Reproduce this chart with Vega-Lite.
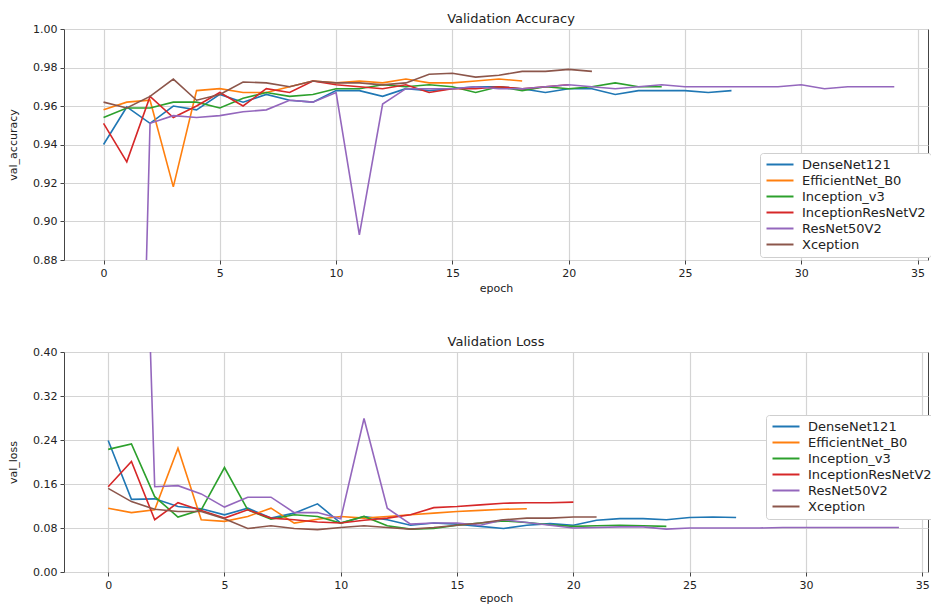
{
  "$schema": "https://vega.github.io/schema/vega-lite/v6.json",
  "padding": {"left": 7, "top": 12, "right": 0, "bottom": 0},
  "background": "white",
  "config": {
    "font": "DejaVu Sans",
    "view": {"stroke": "#444", "strokeWidth": 1},
    "axis": {"domain": false, "grid": true, "gridColor": "#d4d4d4", "gridWidth": 1.2, "tickColor": "#444", "tickSize": 4, "labelFontSize": 11, "labelColor": "#222", "titleFontSize": 11, "titleFontWeight": "normal", "titleColor": "#222", "labelPadding": 3},
    "title": {"fontSize": 13, "fontWeight": "normal", "color": "#222", "offset": -3},
    "legend": {"orient": "none", "title": null, "strokeColor": "#cfcfcf", "fillColor": "white", "padding": 5, "cornerRadius": 3, "symbolType": "M-1,0H4.4", "symbolStrokeWidth": 2, "symbolSize": 100, "labelFontSize": 13, "labelColor": "#222", "rowPadding": 2, "labelOffset": 24}
  },
  "data": {"values": [
    {"model":"DenseNet121","epoch":0,"acc":0.940,"loss":0.239},
    {"model":"DenseNet121","epoch":1,"acc":0.9595,"loss":0.132},
    {"model":"DenseNet121","epoch":2,"acc":0.951,"loss":0.133},
    {"model":"DenseNet121","epoch":3,"acc":0.960,"loss":0.119},
    {"model":"DenseNet121","epoch":4,"acc":0.958,"loss":0.115},
    {"model":"DenseNet121","epoch":5,"acc":0.966,"loss":0.104},
    {"model":"DenseNet121","epoch":6,"acc":0.962,"loss":0.116},
    {"model":"DenseNet121","epoch":7,"acc":0.966,"loss":0.098},
    {"model":"DenseNet121","epoch":8,"acc":0.963,"loss":0.107},
    {"model":"DenseNet121","epoch":9,"acc":0.962,"loss":0.124},
    {"model":"DenseNet121","epoch":10,"acc":0.968,"loss":0.089},
    {"model":"DenseNet121","epoch":11,"acc":0.968,"loss":0.101},
    {"model":"DenseNet121","epoch":12,"acc":0.965,"loss":0.095},
    {"model":"DenseNet121","epoch":13,"acc":0.969,"loss":0.085},
    {"model":"DenseNet121","epoch":14,"acc":0.968,"loss":0.089},
    {"model":"DenseNet121","epoch":15,"acc":0.969,"loss":0.087},
    {"model":"DenseNet121","epoch":16,"acc":0.970,"loss":0.083},
    {"model":"DenseNet121","epoch":17,"acc":0.970,"loss":0.079},
    {"model":"DenseNet121","epoch":18,"acc":0.969,"loss":0.085},
    {"model":"DenseNet121","epoch":19,"acc":0.967,"loss":0.088},
    {"model":"DenseNet121","epoch":20,"acc":0.969,"loss":0.085},
    {"model":"DenseNet121","epoch":21,"acc":0.969,"loss":0.094},
    {"model":"DenseNet121","epoch":22,"acc":0.966,"loss":0.097},
    {"model":"DenseNet121","epoch":23,"acc":0.968,"loss":0.097},
    {"model":"DenseNet121","epoch":24,"acc":0.968,"loss":0.095},
    {"model":"DenseNet121","epoch":25,"acc":0.968,"loss":0.099},
    {"model":"DenseNet121","epoch":26,"acc":0.967,"loss":0.100},
    {"model":"DenseNet121","epoch":27,"acc":0.968,"loss":0.099},
    {"model":"EfficientNet_B0","epoch":0,"acc":0.958,"loss":0.116},
    {"model":"EfficientNet_B0","epoch":1,"acc":0.962,"loss":0.108},
    {"model":"EfficientNet_B0","epoch":2,"acc":0.963,"loss":0.113},
    {"model":"EfficientNet_B0","epoch":3,"acc":0.918,"loss":0.225},
    {"model":"EfficientNet_B0","epoch":4,"acc":0.968,"loss":0.095},
    {"model":"EfficientNet_B0","epoch":5,"acc":0.969,"loss":0.092},
    {"model":"EfficientNet_B0","epoch":6,"acc":0.967,"loss":0.101},
    {"model":"EfficientNet_B0","epoch":7,"acc":0.967,"loss":0.116},
    {"model":"EfficientNet_B0","epoch":8,"acc":0.970,"loss":0.089},
    {"model":"EfficientNet_B0","epoch":9,"acc":0.973,"loss":0.096},
    {"model":"EfficientNet_B0","epoch":10,"acc":0.972,"loss":0.101},
    {"model":"EfficientNet_B0","epoch":11,"acc":0.973,"loss":0.098},
    {"model":"EfficientNet_B0","epoch":12,"acc":0.972,"loss":0.101},
    {"model":"EfficientNet_B0","epoch":13,"acc":0.974,"loss":0.104},
    {"model":"EfficientNet_B0","epoch":14,"acc":0.972,"loss":0.107},
    {"model":"EfficientNet_B0","epoch":15,"acc":0.972,"loss":0.110},
    {"model":"EfficientNet_B0","epoch":16,"acc":0.973,"loss":0.112},
    {"model":"EfficientNet_B0","epoch":17,"acc":0.974,"loss":0.114},
    {"model":"EfficientNet_B0","epoch":18,"acc":0.973,"loss":0.115},
    {"model":"Inception_v3","epoch":0,"acc":0.954,"loss":0.223},
    {"model":"Inception_v3","epoch":1,"acc":0.959,"loss":0.233},
    {"model":"Inception_v3","epoch":2,"acc":0.959,"loss":0.137},
    {"model":"Inception_v3","epoch":3,"acc":0.962,"loss":0.100},
    {"model":"Inception_v3","epoch":4,"acc":0.962,"loss":0.113},
    {"model":"Inception_v3","epoch":5,"acc":0.959,"loss":0.190},
    {"model":"Inception_v3","epoch":6,"acc":0.964,"loss":0.113},
    {"model":"Inception_v3","epoch":7,"acc":0.967,"loss":0.096},
    {"model":"Inception_v3","epoch":8,"acc":0.965,"loss":0.104},
    {"model":"Inception_v3","epoch":9,"acc":0.966,"loss":0.101},
    {"model":"Inception_v3","epoch":10,"acc":0.969,"loss":0.089},
    {"model":"Inception_v3","epoch":11,"acc":0.969,"loss":0.101},
    {"model":"Inception_v3","epoch":12,"acc":0.971,"loss":0.084},
    {"model":"Inception_v3","epoch":13,"acc":0.970,"loss":0.078},
    {"model":"Inception_v3","epoch":14,"acc":0.971,"loss":0.079},
    {"model":"Inception_v3","epoch":15,"acc":0.970,"loss":0.085},
    {"model":"Inception_v3","epoch":16,"acc":0.967,"loss":0.089},
    {"model":"Inception_v3","epoch":17,"acc":0.970,"loss":0.093},
    {"model":"Inception_v3","epoch":18,"acc":0.968,"loss":0.090},
    {"model":"Inception_v3","epoch":19,"acc":0.970,"loss":0.086},
    {"model":"Inception_v3","epoch":20,"acc":0.969,"loss":0.083},
    {"model":"Inception_v3","epoch":21,"acc":0.970,"loss":0.084},
    {"model":"Inception_v3","epoch":22,"acc":0.972,"loss":0.085},
    {"model":"Inception_v3","epoch":23,"acc":0.970,"loss":0.084},
    {"model":"Inception_v3","epoch":24,"acc":0.970,"loss":0.083},
    {"model":"InceptionResNetV2","epoch":0,"acc":0.951,"loss":0.155},
    {"model":"InceptionResNetV2","epoch":1,"acc":0.931,"loss":0.201},
    {"model":"InceptionResNetV2","epoch":2,"acc":0.965,"loss":0.095},
    {"model":"InceptionResNetV2","epoch":3,"acc":0.954,"loss":0.126},
    {"model":"InceptionResNetV2","epoch":4,"acc":0.960,"loss":0.112},
    {"model":"InceptionResNetV2","epoch":5,"acc":0.967,"loss":0.098},
    {"model":"InceptionResNetV2","epoch":6,"acc":0.960,"loss":0.113},
    {"model":"InceptionResNetV2","epoch":7,"acc":0.969,"loss":0.098},
    {"model":"InceptionResNetV2","epoch":8,"acc":0.967,"loss":0.095},
    {"model":"InceptionResNetV2","epoch":9,"acc":0.973,"loss":0.091},
    {"model":"InceptionResNetV2","epoch":10,"acc":0.971,"loss":0.089},
    {"model":"InceptionResNetV2","epoch":11,"acc":0.970,"loss":0.094},
    {"model":"InceptionResNetV2","epoch":12,"acc":0.969,"loss":0.098},
    {"model":"InceptionResNetV2","epoch":13,"acc":0.971,"loss":0.104},
    {"model":"InceptionResNetV2","epoch":14,"acc":0.967,"loss":0.117},
    {"model":"InceptionResNetV2","epoch":15,"acc":0.969,"loss":0.119},
    {"model":"InceptionResNetV2","epoch":16,"acc":0.969,"loss":0.122},
    {"model":"InceptionResNetV2","epoch":17,"acc":0.970,"loss":0.125},
    {"model":"InceptionResNetV2","epoch":18,"acc":0.969,"loss":0.126},
    {"model":"InceptionResNetV2","epoch":19,"acc":0.970,"loss":0.126},
    {"model":"InceptionResNetV2","epoch":20,"acc":0.971,"loss":0.127},
    {"model":"ResNet50V2","epoch":0,"acc":0.45,"loss":2.5},
    {"model":"ResNet50V2","epoch":1,"acc":0.49,"loss":1.5},
    {"model":"ResNet50V2","epoch":2,"acc":0.951,"loss":0.155},
    {"model":"ResNet50V2","epoch":3,"acc":0.955,"loss":0.157},
    {"model":"ResNet50V2","epoch":4,"acc":0.954,"loss":0.142},
    {"model":"ResNet50V2","epoch":5,"acc":0.955,"loss":0.118},
    {"model":"ResNet50V2","epoch":6,"acc":0.957,"loss":0.136},
    {"model":"ResNet50V2","epoch":7,"acc":0.958,"loss":0.136},
    {"model":"ResNet50V2","epoch":8,"acc":0.963,"loss":0.108},
    {"model":"ResNet50V2","epoch":9,"acc":0.962,"loss":0.108},
    {"model":"ResNet50V2","epoch":10,"acc":0.967,"loss":0.097},
    {"model":"ResNet50V2","epoch":11,"acc":0.893,"loss":0.279},
    {"model":"ResNet50V2","epoch":12,"acc":0.961,"loss":0.116},
    {"model":"ResNet50V2","epoch":13,"acc":0.969,"loss":0.087},
    {"model":"ResNet50V2","epoch":14,"acc":0.969,"loss":0.089},
    {"model":"ResNet50V2","epoch":15,"acc":0.969,"loss":0.089},
    {"model":"ResNet50V2","epoch":16,"acc":0.970,"loss":0.085},
    {"model":"ResNet50V2","epoch":17,"acc":0.969,"loss":0.095},
    {"model":"ResNet50V2","epoch":18,"acc":0.969,"loss":0.090},
    {"model":"ResNet50V2","epoch":19,"acc":0.970,"loss":0.085},
    {"model":"ResNet50V2","epoch":20,"acc":0.971,"loss":0.080},
    {"model":"ResNet50V2","epoch":21,"acc":0.970,"loss":0.081},
    {"model":"ResNet50V2","epoch":22,"acc":0.969,"loss":0.082},
    {"model":"ResNet50V2","epoch":23,"acc":0.970,"loss":0.082},
    {"model":"ResNet50V2","epoch":24,"acc":0.971,"loss":0.078},
    {"model":"ResNet50V2","epoch":25,"acc":0.970,"loss":0.080},
    {"model":"ResNet50V2","epoch":26,"acc":0.970,"loss":0.080},
    {"model":"ResNet50V2","epoch":27,"acc":0.970,"loss":0.080},
    {"model":"ResNet50V2","epoch":28,"acc":0.970,"loss":0.080},
    {"model":"ResNet50V2","epoch":29,"acc":0.970,"loss":0.081},
    {"model":"ResNet50V2","epoch":30,"acc":0.971,"loss":0.081},
    {"model":"ResNet50V2","epoch":31,"acc":0.969,"loss":0.081},
    {"model":"ResNet50V2","epoch":32,"acc":0.970,"loss":0.081},
    {"model":"ResNet50V2","epoch":33,"acc":0.970,"loss":0.081},
    {"model":"ResNet50V2","epoch":34,"acc":0.970,"loss":0.081},
    {"model":"Xception","epoch":0,"acc":0.962,"loss":0.152},
    {"model":"Xception","epoch":1,"acc":0.959,"loss":0.128},
    {"model":"Xception","epoch":2,"acc":0.965,"loss":0.114},
    {"model":"Xception","epoch":3,"acc":0.974,"loss":0.110},
    {"model":"Xception","epoch":4,"acc":0.963,"loss":0.110},
    {"model":"Xception","epoch":5,"acc":0.966,"loss":0.097},
    {"model":"Xception","epoch":6,"acc":0.9725,"loss":0.079},
    {"model":"Xception","epoch":7,"acc":0.972,"loss":0.084},
    {"model":"Xception","epoch":8,"acc":0.970,"loss":0.079},
    {"model":"Xception","epoch":9,"acc":0.973,"loss":0.077},
    {"model":"Xception","epoch":10,"acc":0.972,"loss":0.081},
    {"model":"Xception","epoch":11,"acc":0.972,"loss":0.084},
    {"model":"Xception","epoch":12,"acc":0.971,"loss":0.081},
    {"model":"Xception","epoch":13,"acc":0.972,"loss":0.078},
    {"model":"Xception","epoch":14,"acc":0.9765,"loss":0.081},
    {"model":"Xception","epoch":15,"acc":0.977,"loss":0.085},
    {"model":"Xception","epoch":16,"acc":0.975,"loss":0.089},
    {"model":"Xception","epoch":17,"acc":0.976,"loss":0.095},
    {"model":"Xception","epoch":18,"acc":0.978,"loss":0.098},
    {"model":"Xception","epoch":19,"acc":0.978,"loss":0.098},
    {"model":"Xception","epoch":20,"acc":0.979,"loss":0.100},
    {"model":"Xception","epoch":21,"acc":0.978,"loss":0.100}
  ]},
  "resolve": {"scale": {"color": "independent"}, "legend": {"color": "independent"}},
  "spacing": 41,
  "vconcat": [
    {
      "title": {"text": "Validation Accuracy", "dx": 15},
      "width": 864,
      "height": 231,
      "mark": {"type": "line", "strokeWidth": 1.6, "clip": true},
      "encoding": {
        "x": {"field": "epoch", "type": "quantitative", "scale": {"domain": [-1.7, 35.45], "nice": false, "zero": false}, "axis": {"values": [0,5,10,15,20,25,30,35], "title": "epoch", "titlePadding": 4}},
        "y": {"field": "acc", "type": "quantitative", "scale": {"domain": [0.88, 1.0], "nice": false, "zero": false}, "axis": {"values": [0.88,0.90,0.92,0.94,0.96,0.98,1.0], "format": ".2f", "title": "val_accuracy", "titlePadding": 14}},
        "color": {"field": "model", "type": "nominal", "scale": {"domain": ["DenseNet121","EfficientNet_B0","Inception_v3","InceptionResNetV2","ResNet50V2","Xception"], "range": ["#1f77b4","#ff7f0e","#2ca02c","#d62728","#9467bd","#8c564b"]}, "legend": {"legendX": 696, "legendY": 124}},
        "order": {"field": "epoch", "type": "quantitative"}
      }
    },
    {
      "title": "Validation Loss",
      "width": 864,
      "height": 220,
      "mark": {"type": "line", "strokeWidth": 1.6, "clip": true},
      "encoding": {
        "x": {"field": "epoch", "type": "quantitative", "scale": {"domain": [-1.9, 35.25], "nice": false, "zero": false}, "axis": {"values": [0,5,10,15,20,25,30,35], "title": "epoch", "titlePadding": 2}},
        "y": {"field": "loss", "type": "quantitative", "scale": {"domain": [0, 0.40], "nice": false, "zero": false}, "axis": {"values": [0,0.08,0.16,0.24,0.32,0.40], "format": ".2f", "title": "val_loss", "titlePadding": 14}},
        "color": {"field": "model", "type": "nominal", "scale": {"domain": ["DenseNet121","EfficientNet_B0","Inception_v3","InceptionResNetV2","ResNet50V2","Xception"], "range": ["#1f77b4","#ff7f0e","#2ca02c","#d62728","#9467bd","#8c564b"]}, "legend": {"legendX": 702, "legendY": 63}},
        "order": {"field": "epoch", "type": "quantitative"}
      }
    }
  ]
}
